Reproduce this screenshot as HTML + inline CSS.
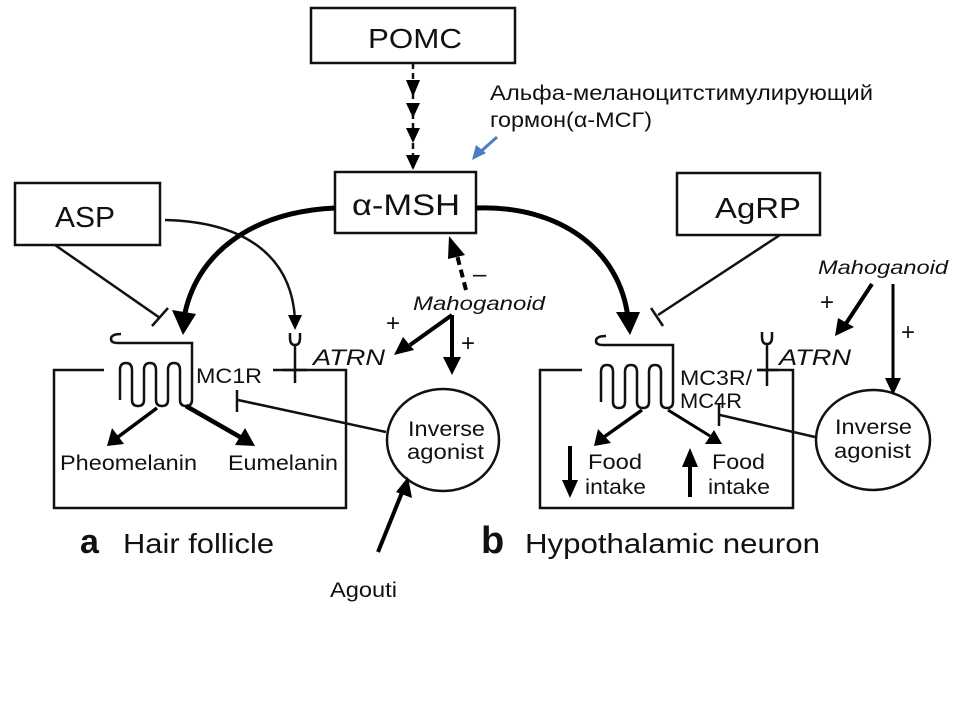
<!DOCTYPE html>
<html><head><meta charset="utf-8"><style>
html,body{margin:0;padding:0;background:#fff;}
svg{display:block;font-family:"Liberation Sans",sans-serif;}
</style></head><body>
<svg width="960" height="720" viewBox="0 0 960 720" xmlns="http://www.w3.org/2000/svg">
<defs>
<marker id="ah" viewBox="0 0 10 10" refX="9" refY="5" markerWidth="5" markerHeight="5" orient="auto" markerUnits="userSpaceOnUse"><path d="M0,0L10,5L0,10z" fill="#000"/></marker>
</defs>
<g fill="none" stroke="#111" stroke-width="2.5">
<rect x="311" y="8" width="204" height="55"/>
<rect x="335" y="172" width="141" height="61"/>
<rect x="15" y="183" width="145" height="62"/>
<rect x="677" y="173" width="143" height="62"/>
<path d="M104,370H54V508H346V370H273"/>
<path d="M582,370H540V508H793V370H757"/>
<line x1="413" y1="63" x2="413" y2="168" stroke-dasharray="6,4"/>
<path d="M121,334 Q111,334 111,339 Q111,343 118,343 H192 V400 Q192,406 186,406 Q180,406 180,400 V370 Q180,363 174,363 Q168,363 168,370 V400 Q168,406 162,406 Q156,406 156,400 V370 Q156,363 150,363 Q144,363 144,370 V400 Q144,406 138,406 Q132,406 132,400 V370 Q132,363 126,363 Q120,363 120,370 V400"/>
<path d="M606,336 Q596,336 596,341 Q596,345 603,345 H673 V402 Q673,408 667,408 Q661,408 661,402 V372 Q661,365 655,365 Q649,365 649,372 V402 Q649,408 643,408 Q637,408 637,402 V372 Q637,365 631,365 Q625,365 625,372 V402 Q625,408 619,408 Q613,408 613,402 V372 Q613,365 607,365 Q601,365 601,372 V402"/>
<path d="M290,333 V338 Q290,345 295,345 Q300,345 300,338 V333 M295,345 V383 M283,370 H307"/>
<path d="M762,332 V337 Q762,344 767,344 Q772,344 772,337 V332 M767,344 V386 M757,370 H778"/>
<ellipse cx="443" cy="440" rx="56" ry="51"/>
<ellipse cx="873" cy="440" rx="57" ry="50"/>
<path d="M386,432 L238,400 M237,390 V412"/>
<path d="M815,437 L720,415 M719,404 V426"/>
<path d="M55,245 L160,318 M152,326 L168,308"/>
<path d="M780,235 L658,315 M651,308 L663,326"/>
<path d="M165,220 C250,222 292,260 295,320"/>
</g>
<g fill="none" stroke="#000">
<path d="M335,208 C250,212 195,255 184,318" stroke-width="5"/>
<path d="M476,208 C560,205 620,250 628,318" stroke-width="5"/>
<path d="M466,290 L457,255" stroke-width="4" stroke-dasharray="8,5"/>
<path d="M452,315 L410,345" stroke-width="4"/>
<path d="M452,315 L452,360" stroke-width="4"/>
<path d="M872,284 L845,325" stroke-width="4"/>
<path d="M893,284 V380" stroke-width="3"/>
<path d="M157,408 L118,437" stroke-width="3.5"/>
<path d="M186,406 L240,437" stroke-width="4.5"/>
<path d="M642,410 L604,437" stroke-width="3.5"/>
<path d="M668,410 L710,436" stroke-width="3"/>
<path d="M570,446 V482" stroke-width="4"/>
<path d="M690,497 V465" stroke-width="4"/>
<path d="M378,552 L403,490" stroke-width="4"/>
<path d="M497,137 L478,154" stroke="#4a7ec0" stroke-width="3"/>
</g>
<g fill="#000">
<path d="M406,80H420L413,97z"/><path d="M406,103H420L413,118z"/><path d="M406,128H420L413,143z"/><path d="M406,155H420L413,170z"/>
<path d="M172,310 L196,314 L183,335z"/>
<path d="M616,312 L640,312 L630,335z"/>
<path d="M288,315 L302,315 L295,330z"/>
<path d="M449,236 L465,255 L448,259z"/>
<path d="M394,355 L403,337 L414,350z"/>
<path d="M443,357 L461,357 L452,375z"/>
<path d="M835,336 L838,318 L854,327z"/>
<path d="M885,378 L901,378 L893,395z"/>
<path d="M107,446 L112,428 L124,444z"/>
<path d="M255,446 L235,445 L245,428z"/>
<path d="M594,446 L598,429 L611,443z"/>
<path d="M722,444 L705,444 L714,430z"/>
<path d="M562,480 L578,480 L570,498z"/>
<path d="M682,467 L698,467 L690,448z"/>
<path d="M408,477 L412,498 L396,492z"/>
<path d="M472,160 L476,145 L486,153z" fill="#4a7ec0"/>
</g>
<g fill="#111" lengthAdjust="spacingAndGlyphs">
<text x="368" y="48" font-size="28" textLength="94" lengthAdjust="spacingAndGlyphs">POMC</text>
<text x="352" y="215" font-size="30" textLength="108" lengthAdjust="spacingAndGlyphs">α-MSH</text>
<text x="55" y="227" font-size="29" textLength="60" lengthAdjust="spacingAndGlyphs">ASP</text>
<text x="715" y="218" font-size="29" textLength="86" lengthAdjust="spacingAndGlyphs">AgRP</text>
<text x="196" y="383" font-size="21" textLength="66" lengthAdjust="spacingAndGlyphs">MC1R</text>
<text x="680" y="385" font-size="21" textLength="72" lengthAdjust="spacingAndGlyphs">MC3R/</text>
<text x="680" y="408" font-size="21" textLength="62" lengthAdjust="spacingAndGlyphs">MC4R</text>
<text x="313" y="365" font-size="22" font-style="italic" textLength="72" lengthAdjust="spacingAndGlyphs">ATRN</text>
<text x="779" y="365" font-size="22" font-style="italic" textLength="72" lengthAdjust="spacingAndGlyphs">ATRN</text>
<text x="413" y="310" font-size="19" font-style="italic" textLength="132" lengthAdjust="spacingAndGlyphs">Mahoganoid</text>
<text x="818" y="274" font-size="19" font-style="italic" textLength="130" lengthAdjust="spacingAndGlyphs">Mahoganoid</text>
<text x="386" y="331" font-size="24">+</text>
<text x="461" y="351" font-size="24">+</text>
<text x="473" y="282" font-size="24">–</text>
<text x="820" y="310" font-size="24">+</text>
<text x="901" y="340" font-size="24">+</text>
<text x="408" y="436" font-size="21" textLength="77" lengthAdjust="spacingAndGlyphs">Inverse</text>
<text x="407" y="459" font-size="21" textLength="77" lengthAdjust="spacingAndGlyphs">agonist</text>
<text x="835" y="434" font-size="21" textLength="77" lengthAdjust="spacingAndGlyphs">Inverse</text>
<text x="834" y="458" font-size="21" textLength="77" lengthAdjust="spacingAndGlyphs">agonist</text>
<text x="60" y="470" font-size="21" textLength="137" lengthAdjust="spacingAndGlyphs">Pheomelanin</text>
<text x="228" y="470" font-size="21" textLength="110" lengthAdjust="spacingAndGlyphs">Eumelanin</text>
<text x="588" y="469" font-size="21" textLength="54" lengthAdjust="spacingAndGlyphs">Food</text>
<text x="585" y="494" font-size="21" textLength="61" lengthAdjust="spacingAndGlyphs">intake</text>
<text x="712" y="469" font-size="21" textLength="53" lengthAdjust="spacingAndGlyphs">Food</text>
<text x="708" y="494" font-size="21" textLength="62" lengthAdjust="spacingAndGlyphs">intake</text>
<text x="80" y="553" font-size="34" font-weight="bold">a</text>
<text x="123" y="553" font-size="28" textLength="151" lengthAdjust="spacingAndGlyphs">Hair follicle</text>
<text x="481" y="553" font-size="38" font-weight="bold">b</text>
<text x="525" y="553" font-size="28" textLength="295" lengthAdjust="spacingAndGlyphs">Hypothalamic neuron</text>
<text x="330" y="597" font-size="21" textLength="67" lengthAdjust="spacingAndGlyphs">Agouti</text>
<text x="490" y="100" font-size="21" textLength="383" lengthAdjust="spacingAndGlyphs">Альфа-меланоцитстимулирующий</text>
<text x="490" y="127" font-size="21" textLength="162" lengthAdjust="spacingAndGlyphs">гормон(α-МСГ)</text>
</g>
</svg>
</body></html>
